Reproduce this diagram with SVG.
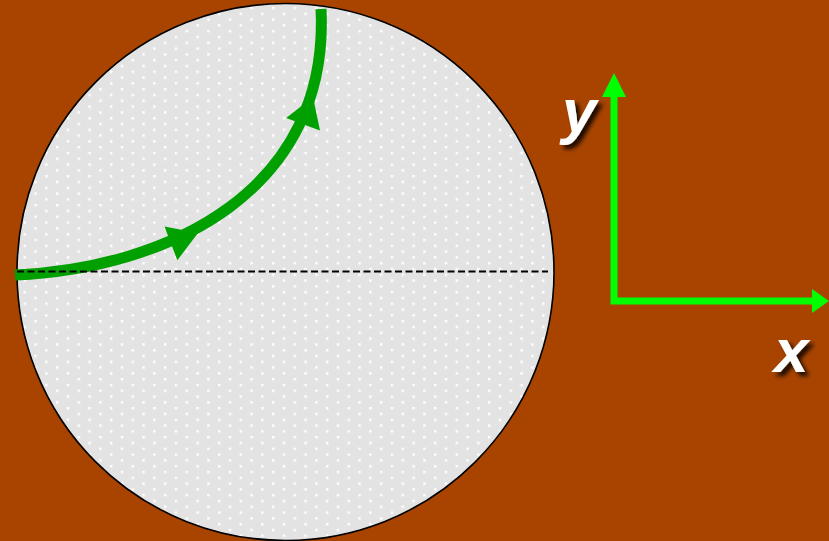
<svg xmlns="http://www.w3.org/2000/svg" xmlns:xlink="http://www.w3.org/1999/xlink" width="829" height="541" viewBox="0 0 829 541">
  <style>
    .lbl { font-family: "Liberation Sans", Arial, sans-serif; font-weight: bold; font-style: italic; font-size: 62px; fill: #ffffff; filter: url(#shadow); }
    .axis { fill: none; stroke: #00ff00; stroke-width: 7; stroke-linejoin: miter; }
    .axhead { fill: #00ff00; }
    .path { fill: none; stroke: #00a000; stroke-width: 11; stroke-linecap: butt; }
    .phead { fill: #00a000; }
  </style>
  <defs>
    <pattern id="dots" patternUnits="userSpaceOnUse" x="2" y="1" width="21.6" height="11.6">
      <rect x="0" y="0" width="2.4" height="2.4" fill="#ffffff"/>
      <rect x="10.8" y="5.8" width="2.4" height="2.4" fill="#ffffff"/>
    </pattern>
    <filter id="shadow" x="-30%" y="-30%" width="170%" height="170%">
      <feDropShadow dx="4" dy="4" stdDeviation="2" flood-color="#000000" flood-opacity="0.85"/>
    </filter>
    <path id="ah" d="M0,0 L-29,-18 L-29,18 Z"/>
  </defs>

  <rect x="0" y="0" width="829" height="541" fill="#a84400"/>

  <g id="sphere">
    <circle cx="285.5" cy="272" r="268.5" fill="#e3e3e3"/>
    <circle cx="285.5" cy="272" r="268.5" fill="url(#dots)" stroke="#000000" stroke-width="1.6"/>
  </g>

  <g id="connectors">
    <g id="trajectory">
      <path class="path" d="M15,275 C170,268 330,190 321,9"/>
      <use xlink:href="#ah" class="phead" transform="translate(198,233) rotate(-21)"/>
      <use xlink:href="#ah" class="phead" transform="translate(313,97) rotate(-70)"/>
    </g>
    <g id="axes">
      <path class="axis" d="M614,96 L614,301 L812,301"/>
      <polygon class="axhead" points="614,73 602,97 626,97"/>
      <polygon class="axhead" points="829,301 812,289 812,313"/>
    </g>
  </g>

  <g id="equator">
    <line x1="17" y1="271.5" x2="548" y2="271.5" stroke="#000000" stroke-width="2.2" stroke-dasharray="7 3.5"/>
  </g>

  <g id="label-y">
    <text class="lbl" x="562" y="132">y</text>
  </g>
  <g id="label-x">
    <text class="lbl" x="774" y="372">x</text>
  </g>
</svg>
